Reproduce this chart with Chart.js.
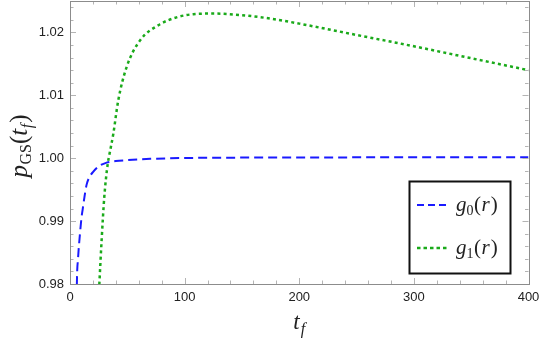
<!DOCTYPE html>
<html>
<head>
<meta charset="utf-8">
<script src="https://cdn.jsdelivr.net/npm/chart.js@4"></script>
<style>
html,body{margin:0;padding:0;background:#fff;}
#wrap{position:relative;width:542px;height:344px;}
</style>
</head>
<body>
<div id="wrap"><canvas id="c" width="542" height="344"></canvas></div>
<script>
// ---- data ----
const g0T = [5, 6, 7, 8.7, 10, 11, 12.5, 14.5, 17, 20, 25, 32, 40, 50, 70, 100, 150, 200, 300, 400];
const g0Values = [0.962, 0.98, 0.984, 0.988, 0.9905, 0.9918, 0.9937, 0.9958, 0.9970, 0.9978, 0.9987, 0.9993, 0.99955, 0.9997, 0.9999, 1.00003, 1.0001, 1.00012, 1.00015, 1.00017];
const g1T = [24, 25.6, 27.6, 29.9, 32.9, 34.3, 37.8, 42.1, 49.4, 61, 78.5, 93, 107.5, 125, 150, 175, 200, 250, 300, 350, 400];
const g1Values = [0.974, 0.98, 0.987, 0.9938, 0.9991, 1.0005, 1.0039, 1.0092, 1.0145, 1.0187, 1.0213, 1.0224, 1.0229, 1.0230, 1.02275, 1.0222, 1.0214, 1.0196, 1.0178, 1.0159, 1.0140];
const xTicks = [0, 100, 200, 300, 400];
const yTicks = [0.98, 0.99, 1.00, 1.01, 1.02];
const xMinorStep = 20;
const yMinorStep = 0.002;
const seriesLabels = ['g0(r)', 'g1(r)'];

const toPts = (ts, vs) => ts.map((t, i) => ({x: t, y: vs[i]}));

const FRAME = '#8c8c8c';
const TICKC = '#b4b4b4';

const framePlugin = {
  id: 'frame',
  afterDatasetsDraw(chart) {
    const {ctx, chartArea: a, scales: {x, y}} = chart;
    ctx.save();
    ctx.lineWidth = 1;
    ctx.strokeStyle = TICKC;
    const tick = (x1, y1, x2, y2) => { ctx.beginPath(); ctx.moveTo(x1, y1); ctx.lineTo(x2, y2); ctx.stroke(); };
    for (let v = x.min; v <= x.max + 1e-9; v += xMinorStep) {
      const px = Math.round(x.getPixelForValue(v)) + 0.5;
      const major = xTicks.some(t => Math.abs(t - v) < 1e-6);
      const L = major ? 6 : 3.5;
      tick(px, a.bottom, px, a.bottom - L);
      tick(px, a.top, px, a.top + L);
    }
    for (let v = y.min; v <= y.max + 1e-9; v += yMinorStep) {
      const py = Math.round(y.getPixelForValue(v)) + 0.5;
      const major = yTicks.some(t => Math.abs(t - v) < 1e-6);
      const L = major ? 6 : 3.5;
      tick(a.left, py, a.left + L, py);
      tick(a.right, py, a.right - L, py);
    }
    ctx.strokeStyle = FRAME;
    ctx.strokeRect(Math.round(a.left) + 0.5, Math.round(a.top) + 0.5, Math.round(a.right - a.left), Math.round(a.bottom - a.top));
    ctx.restore();
  },
  afterDraw(chart) {
    const {ctx, chartArea: a} = chart;
    ctx.save();
    ctx.fillStyle = '#222';
    ctx.textBaseline = 'alphabetic';
    const run = (parts, x0, y0) => {
      let xx = x0;
      parts.forEach(p => {
        ctx.font = p.f;
        ctx.fillText(p.t, xx, y0 + (p.dy || 0));
        xx += ctx.measureText(p.t).width + (p.sp || 0);
      });
      return xx - x0;
    };
    const measure = (parts) => {
      let w = 0;
      parts.forEach(p => { ctx.font = p.f; w += ctx.measureText(p.t).width + (p.sp || 0); });
      return w;
    };
    const SERIF = '"Liberation Serif", "DejaVu Serif", serif';
    const xt = [
      {t: 't', f: `italic 23px ${SERIF}`, sp: 1},
      {t: 'f', f: `italic 16px ${SERIF}`, dy: 5}
    ];
    const cx = (a.left + a.right) / 2;
    run(xt, cx - measure(xt) / 2, 329);
    const yt = [
      {t: 'p', f: `italic 25px ${SERIF}`, sp: 0.5},
      {t: 'GS', f: `16px ${SERIF}`, dy: 4},
      {t: '(', f: `25px ${SERIF}`},
      {t: 't', f: `italic 25px ${SERIF}`, sp: 0.5},
      {t: 'f', f: `italic 16px ${SERIF}`, dy: 5, sp: 1},
      {t: ')', f: `25px ${SERIF}`}
    ];
    ctx.save();
    ctx.translate(27, 146);
    ctx.rotate(-Math.PI / 2);
    run(yt, -measure(yt) / 2, 0);
    ctx.restore();
    const lx = 409.5, ly = 181.5, lw = 101, lh = 92;
    ctx.fillStyle = '#fff';
    ctx.fillRect(lx, ly, lw, lh);
    ctx.strokeStyle = '#111';
    ctx.lineWidth = 2;
    ctx.strokeRect(lx, ly, lw, lh);
    const ds = chart.data.datasets;
    const rows = [205, 248];
    ds.forEach((d, i) => {
      ctx.save();
      ctx.strokeStyle = d.borderColor;
      ctx.lineWidth = d.borderWidth;
      ctx.setLineDash(i === 0 ? [7, 4] : [3.5, 3]);
      ctx.beginPath();
      ctx.moveTo(417, rows[i]);
      ctx.lineTo(447, rows[i]);
      ctx.stroke();
      ctx.restore();
      ctx.fillStyle = '#222';
      const parts = [
        {t: 'g', f: `italic 21px ${SERIF}`, sp: 0},
        {t: String(i), f: `14px ${SERIF}`, dy: 4, sp: 0.5},
        {t: '(', f: `21px ${SERIF}`, sp: 0.5},
        {t: 'r', f: `italic 21px ${SERIF}`, sp: 1},
        {t: ')', f: `21px ${SERIF}`}
      ];
      run(parts, 456, rows[i] + 6);
    });
    ctx.restore();
  }
};

new Chart(document.getElementById('c'), {
  type: 'line',
  data: {
    datasets: [
      {label: seriesLabels[0], data: toPts(g0T, g0Values), borderColor: '#1a1aff', borderWidth: 2, borderDash: [9, 5], pointRadius: 0, cubicInterpolationMode: 'monotone', fill: false},
      {label: seriesLabels[1], data: toPts(g1T, g1Values), borderColor: '#1aaa1a', borderWidth: 2.5, borderDash: [3, 3.2], pointRadius: 0, cubicInterpolationMode: 'monotone', fill: false}
    ]
  },
  options: {
    responsive: false,
    animation: false,
    devicePixelRatio: 1,
    layout: {padding: {left: 0, right: 13.5, top: 1, bottom: 0}},
    plugins: {legend: {display: false}, tooltip: {enabled: false}},
    scales: {
      x: {
        type: 'linear', min: 0, max: 400,
        afterBuildTicks: s => { s.ticks = xTicks.map(v => ({value: v})); },
        afterFit: s => { s.height = 60; s.paddingLeft = 0; s.paddingRight = 0; },
        grid: {display: false, drawTicks: false},
        border: {display: false},
        ticks: {color: '#222', font: {family: '"Liberation Sans", Arial, sans-serif', size: 13}, padding: 6, maxRotation: 0, callback: v => String(v)}
      },
      y: {
        type: 'linear', min: 0.98, max: 1.025,
        afterBuildTicks: s => { s.ticks = yTicks.map(v => ({value: v})); },
        afterFit: s => { s.width = 70; s.paddingTop = 0; s.paddingBottom = 0; },
        grid: {display: false, drawTicks: false},
        border: {display: false},
        ticks: {color: '#222', font: {family: '"Liberation Sans", Arial, sans-serif', size: 13}, padding: 6, callback: v => Number(v).toFixed(2)}
      }
    }
  },
  plugins: [framePlugin]
});
</script>
</body>
</html>
